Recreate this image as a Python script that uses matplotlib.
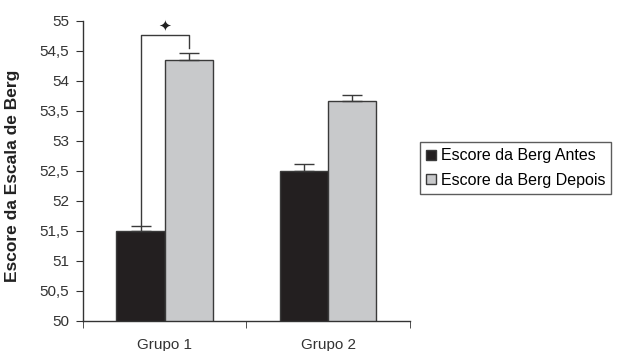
import matplotlib
matplotlib.use("Agg")
import matplotlib.pyplot as plt
import numpy as np

plt.rcParams['font.family'] = ['Liberation Sans', 'DejaVu Sans']

grupos = ['Grupo 1', 'Grupo 2']
antes = [51.5, 52.5]
depois = [54.35, 53.67]
err_antes = [0.09, 0.12]
err_depois = [0.12, 0.1]
series = ['Escore da Berg Antes', 'Escore da Berg Depois']

fig = plt.figure(figsize=(6.22, 3.51), dpi=100)
ax = fig.add_axes([0.1334, 0.0855, 0.5257, 0.8547])

x = np.arange(len(grupos))
w = 0.295
ec = '#3a3a3a'
ax.bar(x - w/2, antes, w, color='#231f20', edgecolor=ec, linewidth=1.0, label=series[0])
ax.bar(x + w/2, depois, w, color='#c8c9cb', edgecolor=ec, linewidth=1.0, label=series[1])
ax.errorbar(x - w/2, antes, yerr=[np.zeros(2), err_antes], fmt='none',
            ecolor=ec, elinewidth=1.0, capsize=7, capthick=1.0)
ax.errorbar(x + w/2, depois, yerr=[np.zeros(2), err_depois], fmt='none',
            ecolor=ec, elinewidth=1.0, capsize=7, capthick=1.0)

# colchete de significância no Grupo 1
top = 54.77
ax.plot([x[0] - w/2, x[0] - w/2, x[0] + w/2, x[0] + w/2],
        [antes[0] + err_antes[0], top, top, depois[0] + err_depois[0] + 0.08],
        color=ec, linewidth=1.0)
ax.text(x[0], top + 0.14, '✦', ha='center', va='center', fontsize=11,
        color='#222222', family='DejaVu Sans')

ax.set_xlim(-0.5, 1.5)
ax.set_ylim(50, 55)
yt = np.arange(50, 55.01, 0.5)
ax.set_yticks(yt)
ax.set_yticklabels([('%g' % v).replace('.', ',') for v in yt])
ax.set_xticks(x)
ax.set_xticklabels(grupos)
ax.set_xticks([-0.5, 0.5, 1.5], minor=True)
ax.tick_params(axis='x', which='major', length=0, pad=12)
ax.tick_params(axis='x', which='minor', length=5, direction='out', color='#333333')
ax.tick_params(axis='y', length=5, direction='out', color='#333333', pad=5)
ax.tick_params(labelsize=11, labelcolor='#333333')
for s in ['top', 'right']:
    ax.spines[s].set_visible(False)
for s in ['left', 'bottom']:
    ax.spines[s].set_color('#333333')
    ax.spines[s].set_linewidth(1.0)

ax.set_ylabel('Escore da Escala de Berg', fontsize=12.5, fontweight='bold', color='#222222')
ax.yaxis.set_label_coords(-0.193, 0.483)

leg = ax.legend(loc='upper left', bbox_to_anchor=(1.03, 0.597), fontsize=11.5,
                frameon=True, fancybox=False, edgecolor='#333333',
                handlelength=0.6, handleheight=0.6, handletextpad=0.3,
                borderpad=0.4, labelspacing=0.6, borderaxespad=0)
leg.get_frame().set_linewidth(1.0)

fig.savefig('out.png', dpi=100)
